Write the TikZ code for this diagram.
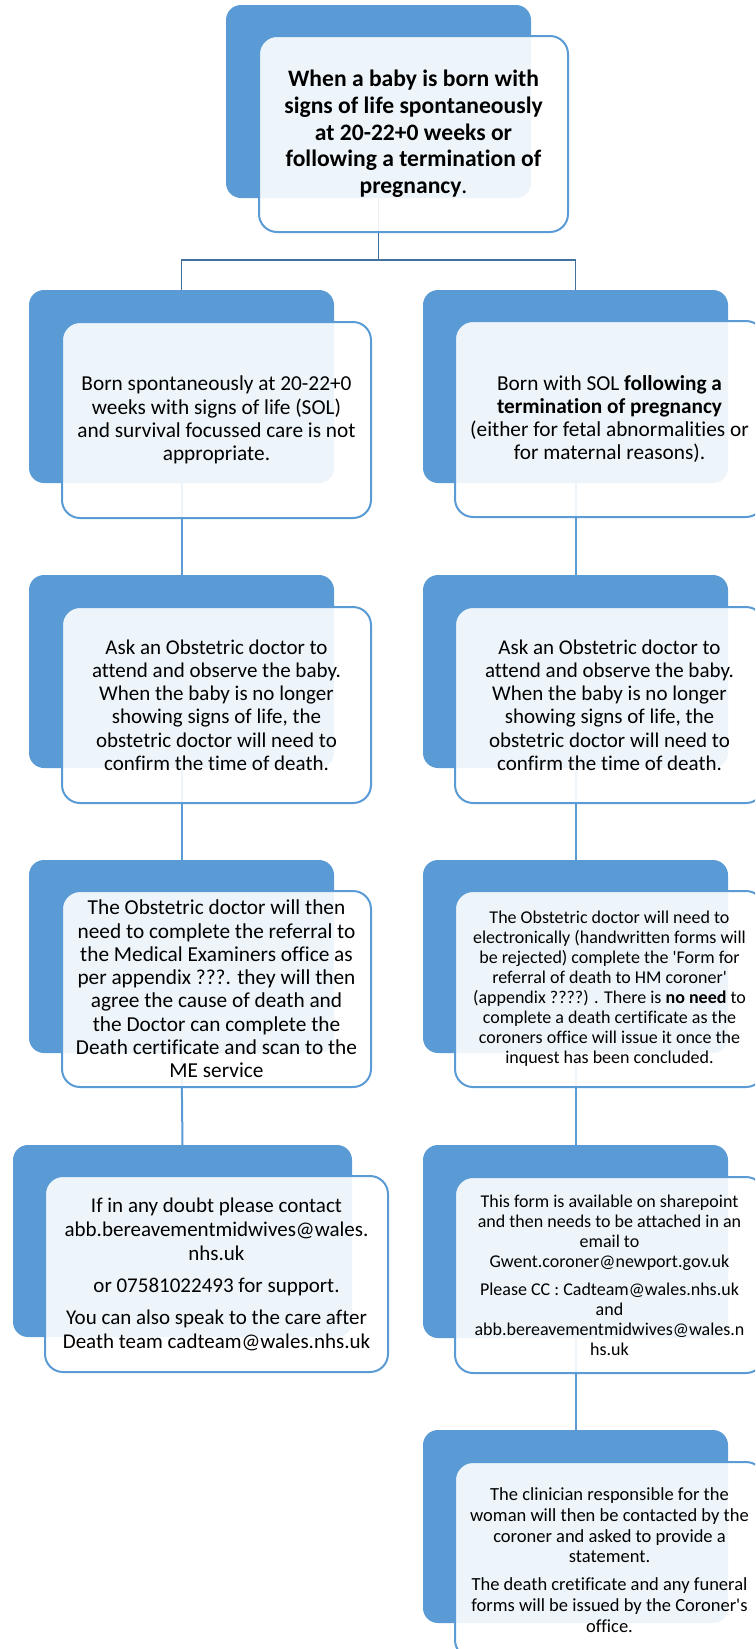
\documentclass[tikz,border=0pt]{standalone}
\usepackage{fontspec}
\setmainfont{Carlito}[Ligatures={TeXOff,CommonOff}]
\definecolor{mblue}{HTML}{5B9BD5}
\definecolor{dblue}{HTML}{41719C}
\tikzset{
  backbox/.style={fill=mblue, rounded corners=15pt, anchor=north west, minimum width=305pt, minimum height=193pt, inner sep=0pt, outer sep=0pt},
  frontbox/.style={draw=mblue, line width=2pt, fill=white, fill opacity=0.9, text opacity=1, draw opacity=1, rounded corners=18pt, anchor=north west, minimum width=309pt, minimum height=196pt, inner sep=0pt, outer sep=0pt, align=center, text=black},
  treeline/.style={draw=dblue, line width=1.8pt},
  conn/.style={draw=mblue, line width=2pt},
  fA/.style={font=\fontsize{21.3}{23.3}\selectfont},
  fB/.style={font=\fontsize{18}{20}\selectfont},
}
\begin{document}
\begin{tikzpicture}[x=1pt,y=-1pt]
\useasboundingbox (0,0) rectangle (755,1649);
\clip (0,0) rectangle (755,1649);
% back boxes
\node[backbox] (b1) at (226,5) {};
\node[backbox] (b2l) at (29,290) {};
\node[backbox] (b3l) at (29,575) {};
\node[backbox] (b4l) at (29,860) {};
\node[backbox, minimum width=339pt, minimum height=192pt] (b5l) at (13,1145) {};
\node[backbox] (b2r) at (423,290) {};
\node[backbox] (b3r) at (423,575) {};
\node[backbox] (b4r) at (423,860) {};
\node[backbox] (b5r) at (423,1145) {};
\node[backbox] (b6r) at (423,1430) {};
% connectors
\coordinate (j) at (378.5,260);
\draw[treeline] (b1.south) -- (j);
\draw[treeline] (j) -| (b2l.north);
\draw[treeline] (j) -| (b2r.north);
\draw[conn] (b2l.south) -- (b3l.north);
\draw[conn] (b3l.south) -- (b4l.north);
\draw[conn] (b4l.south) -- (b5l.north);
\draw[conn] (b2r.south) -- (b3r.north);
\draw[conn] (b3r.south) -- (b4r.north);
\draw[conn] (b4r.south) -- (b5r.north);
\draw[conn] (b5r.south) -- (b6r.north);
% front boxes
\node[frontbox, font=\fontsize{23.6}{26.7}\selectfont\bfseries] (f1) at (259,36) {When a baby is born with\\ signs of life spontaneously\\ at 20-22+0 weeks or\\ following a termination of\\ pregnancy\textmd{.}};
\node[frontbox, fA] (f2l) at (62,322) {Born spontaneously at 20-22+0\\ weeks with signs of life (SOL)\\ and survival focussed care is not\\ appropriate.};
\node[frontbox, fA] (f2r) at (455,321) {Born with SOL \textbf{following a}\\ \textbf{termination of pregnancy}\\ (either for fetal abnormalities or\\ for maternal reasons).};
\node[frontbox, font=\fontsize{21}{23.2}\selectfont] (f3l) at (62,607) {Ask an Obstetric doctor to\\ attend and observe the baby.\\ When the baby is no longer\\ showing signs of life, the\\ obstetric doctor will need to\\ confirm the time of death.};
\node[frontbox, font=\fontsize{21}{23.2}\selectfont] (f3r) at (455,607) {Ask an Obstetric doctor to\\ attend and observe the baby.\\ When the baby is no longer\\ showing signs of life, the\\ obstetric doctor will need to\\ confirm the time of death.};
\node[frontbox, fA] (f4l) at (62,891) {The Obstetric doctor will then\\ need to complete the referral to\\ the Medical Examiners office as\\ per appendix ???. they will then\\ agree the cause of death and\\ the Doctor can complete the\\ Death certificate and scan to the\\ ME service};
\node[frontbox, fB] (f4r) at (455,891) {The Obstetric doctor will need to\\ electronically (handwritten forms will\\ be rejected) complete the 'Form for\\ referral of death to HM coroner'\\ (appendix ????) . There is \textbf{no need} to\\ complete a death certificate as the\\ coroners office will issue it once the\\ inquest has been concluded.};
\node[frontbox, minimum width=343pt, font=\fontsize{21}{24}\selectfont] (f5l) at (45,1176) {If in any doubt please contact\\ abb.bereavementmidwives@wales.\\ nhs.uk\\[8pt] or 07581022493 for support.\\[8pt] You can also speak to the care after\\ Death team cadteam@wales.nhs.uk};
\node[frontbox, fB] (f5r) at (455,1177) {This form is available on sharepoint\\ and then needs to be attached in an\\ email to\\ Gwent.coroner@newport.gov.uk\\[8pt] Please CC : Cadteam@wales.nhs.uk\\ and\\ abb.bereavementmidwives@wales.n\\ hs.uk};
\node[frontbox, font=\fontsize{18.5}{20.8}\selectfont] (f6r) at (455,1462) {The clinician responsible for the\\ woman will then be contacted by the\\ coroner and asked to provide a\\ statement.\\[7pt] The death cretificate and any funeral\\ forms will be issued by the Coroner's\\ office.};
\end{tikzpicture}
\end{document}
